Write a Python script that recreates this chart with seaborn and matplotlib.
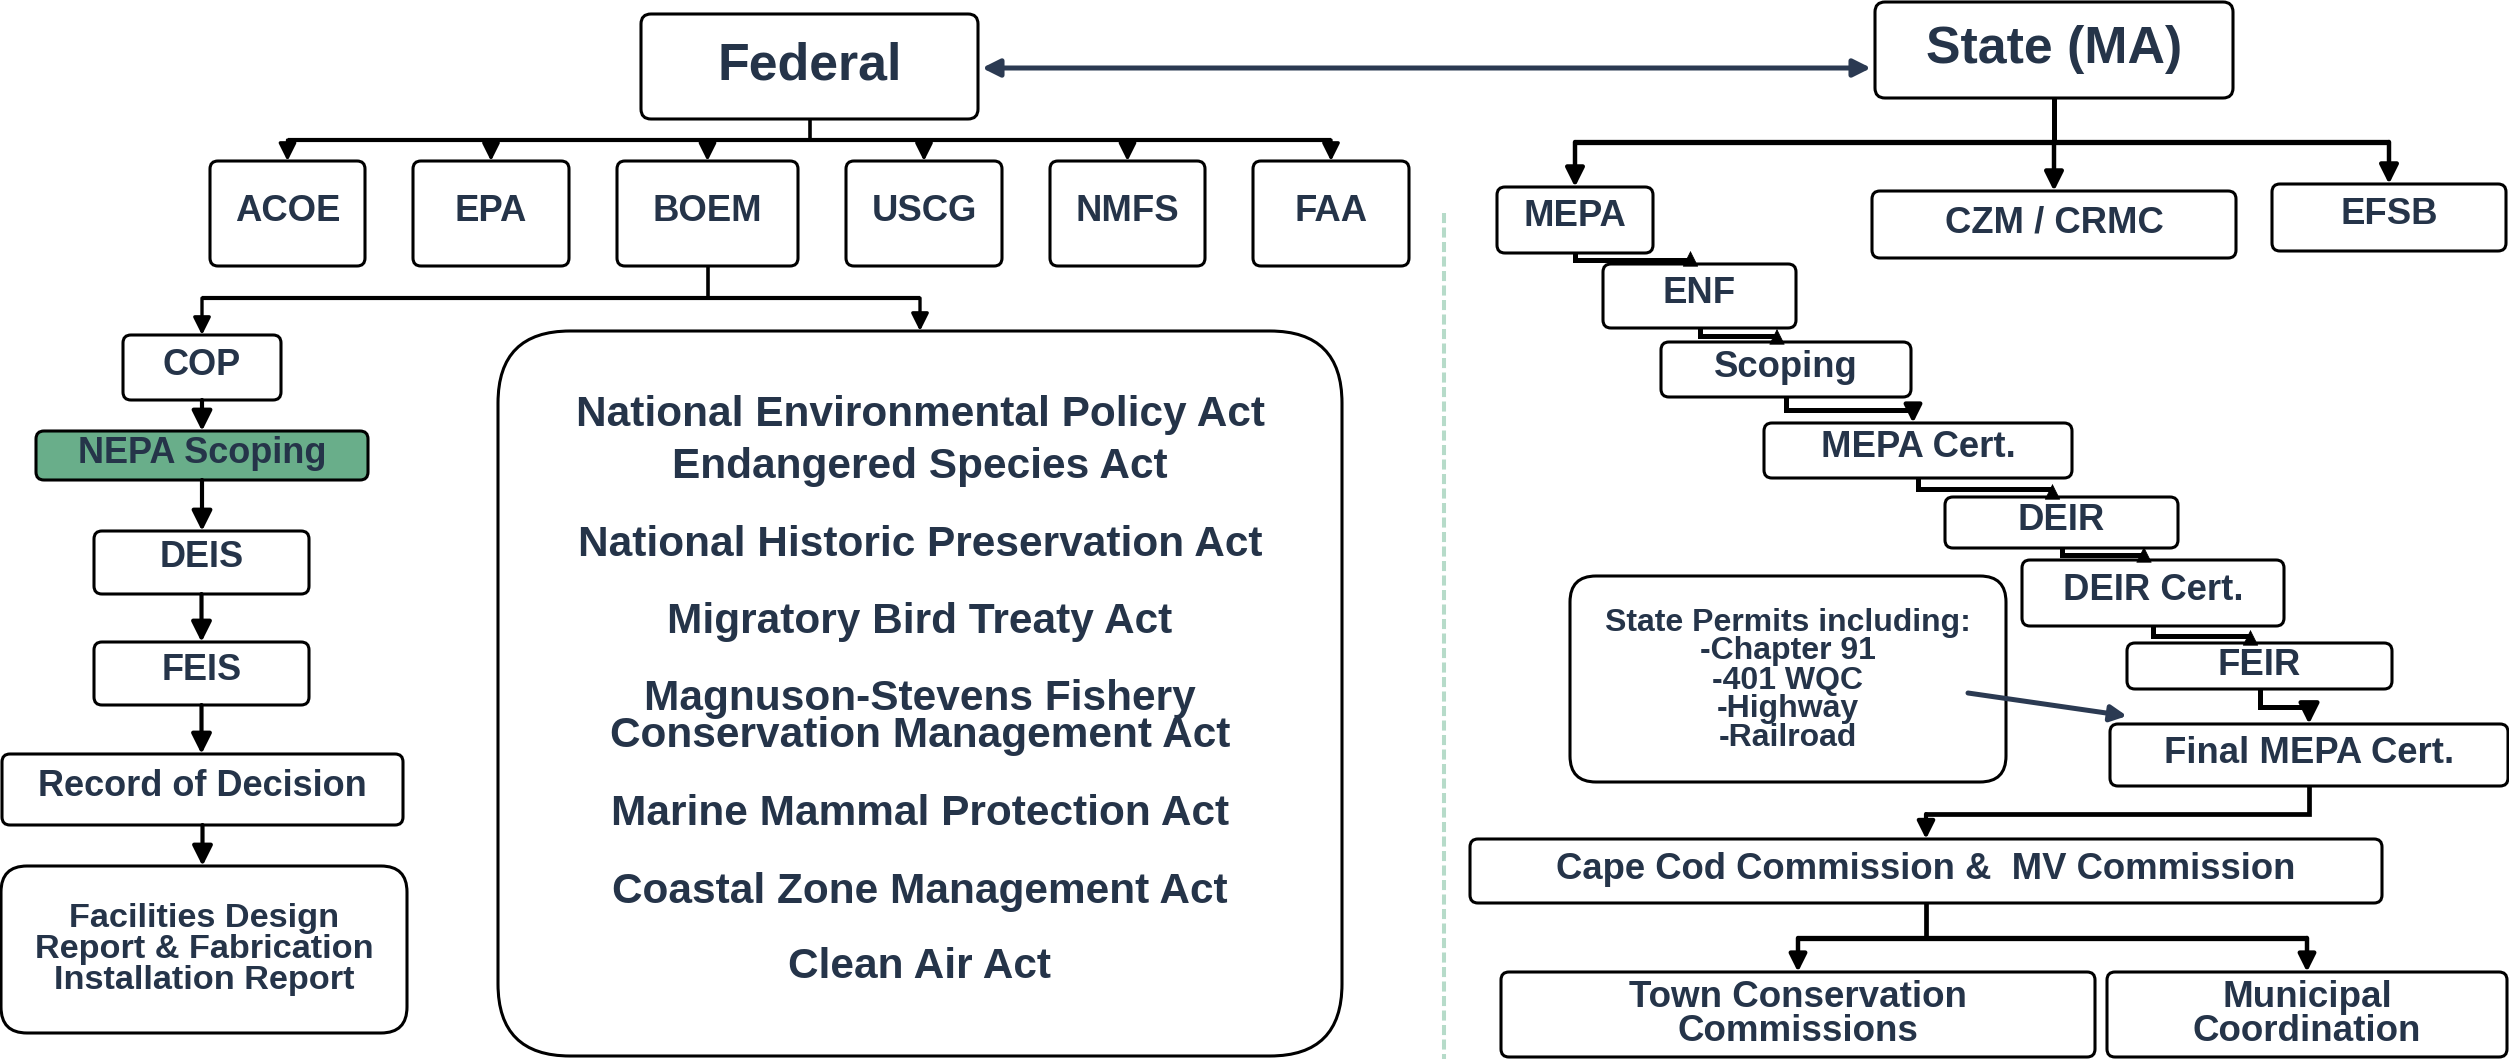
import matplotlib
matplotlib.use("Agg")
import matplotlib.pyplot as plt
from matplotlib.patches import FancyBboxPatch
import seaborn as sns

# ---- chart content -------------------------------------------------------
top_labels = ["Federal", "State (MA)"]
agency_labels = ["ACOE", "EPA", "BOEM", "USCG", "NMFS", "FAA"]
boem_chain = ["COP", "NEPA Scoping", "DEIS", "FEIS", "Record of Decision",
              "Facilities Design\nReport & Fabrication\nInstallation Report"]
highlighted = "NEPA Scoping"
acts_labels = ["National Environmental Policy Act", "Endangered Species Act",
               "National Historic Preservation Act", "Migratory Bird Treaty Act",
               "Magnuson-Stevens Fishery", "Conservation Management Act",
               "Marine Mammal Protection Act", "Coastal Zone Management Act",
               "Clean Air Act"]
state_branches = ["MEPA", "CZM / CRMC", "EFSB"]
mepa_chain = ["ENF", "Scoping", "MEPA Cert.", "DEIR", "DEIR Cert.", "FEIR",
              "Final MEPA Cert."]
permit_lines = ["State Permits including:", "-Chapter 91", "-401 WQC",
                "-Highway", "-Railroad"]
commission_label = "Cape Cod Commission &  MV Commission"
local_labels = ["Town Conservation\nCommissions", "Municipal\nCoordination"]

# ---- layout (pixel boxes: x0, y0, x1, y1) --------------------------------
top_boxes = [(641, 14, 978, 119), (1875, 2, 2233, 98)]
agency_boxes = [(210, 161, 365, 266), (413, 161, 569, 266), (617, 161, 798, 266),
                (846, 161, 1002, 266), (1050, 161, 1205, 266), (1253, 161, 1409, 266)]
boem_boxes = [(123, 335, 281, 400), (36, 431, 368, 480), (94, 531, 309, 594),
              (94, 642, 309, 705), (2, 754, 403, 825), (1, 866, 407, 1033)]
boem_text_y = [362, 450, 554, 667, 783, 915]
acts_box = (498, 331, 1342, 1056)
acts_y = [411, 463, 541, 618, 695, 732, 810, 888, 963]
state_boxes = [(1497, 187, 1653, 253), (1872, 191, 2236, 258), (2272, 184, 2506, 251)]
state_text_y = [213, 219, 211]
mepa_boxes = [(1603, 264, 1796, 328), (1661, 342, 1911, 397), (1764, 423, 2072, 478),
              (1945, 497, 2178, 548), (2022, 560, 2284, 626), (2127, 643, 2392, 689),
              (2110, 724, 2508, 786)]
mepa_text_y = [290, 364, 444, 517, 587, 662, 750]
permit_box = (1570, 576, 2006, 782)
permit_y = [619, 648, 677, 706, 734]
commission_box = (1470, 839, 2382, 903)
local_boxes = [(1501, 972, 2095, 1057), (2107, 972, 2507, 1057)]
local_y = [994, 1028]

TXT = "#253449"
NAVY = "#2b3a52"
GREEN = "#69ae8a"
DASH = "#b6dbc9"

sns.set_theme(style="white")
plt.rcParams["font.family"] = ["Liberation Sans", "DejaVu Sans"]

fig = plt.figure(figsize=(25.09, 10.59), dpi=100)
ax = fig.add_axes([0, 0, 1, 1])
ax.set_xlim(0, 2509)
ax.set_ylim(1059, 0)
ax.axis("off")


def box(b, r=8, fc="white", lw=2.2):
    x0, y0, x1, y1 = b
    ax.add_patch(FancyBboxPatch((x0, y0), x1 - x0, y1 - y0,
                                boxstyle=f"round,pad=0,rounding_size={r}",
                                fc=fc, ec="black", lw=lw, zorder=2))


def put(x, ycap, s, size):
    # ycap = centre of the capital letters, in pixels
    ax.text(x, ycap + 0.36 * size * 100 / 72, s, fontsize=size, ha="center",
            va="baseline", color=TXT, fontweight="bold", zorder=3)


def cx(b):
    return (b[0] + b[2]) / 2


def arrow(p0, p1, lw=2.6, ms=28, color="black", style="-|>", z=4):
    ax.annotate("", xy=p1, xytext=p0,
                arrowprops=dict(arrowstyle=style, color=color, lw=lw,
                                mutation_scale=ms, shrinkA=0, shrinkB=0),
                zorder=z)


def line(xs, ys, lw=2.6):
    ax.plot(xs, ys, color="black", lw=lw, solid_capstyle="butt",
            solid_joinstyle="miter", zorder=1)


# divider
ax.plot([1444, 1444], [213, 1059], color=DASH, lw=2.9, dashes=(2.5, 1.1), zorder=0)

# federal <-> state
arrow((982, 68), (1871, 68), lw=3.6, ms=26, color=NAVY, style="<|-|>")

# top boxes
for b in top_boxes:
    box(b, r=10)
put(cx(top_boxes[0]), 61, top_labels[0], 37.4)
put(cx(top_boxes[1]), 44, top_labels[1], 37.4)

# federal agencies
fx = cx(top_boxes[0])
line([fx, fx], [119, 140])
line([cx(agency_boxes[0]), cx(agency_boxes[-1])], [140, 140], lw=3)
for b, s in zip(agency_boxes, agency_labels):
    arrow((cx(b), 140), (cx(b), b[1]), lw=2.4, ms=26)
    box(b)
    put(cx(b), 208, s, 26.3)

# BOEM branch
bx = cx(agency_boxes[2])
line([bx, bx], [266, 298])
line([cx(boem_boxes[0]), cx(acts_box)], [298, 298], lw=3)
arrow((cx(boem_boxes[0]), 298), (cx(boem_boxes[0]), boem_boxes[0][1]), lw=2.4, ms=26)
arrow((cx(acts_box), 298), (cx(acts_box), acts_box[1]), lw=2.4, ms=26)

for i, (b, s, y) in enumerate(zip(boem_boxes, boem_chain, boem_text_y)):
    if i > 0:
        prev = boem_boxes[i - 1]
        arrow((cx(prev), prev[3]), (cx(prev), b[1]), lw=3, ms=30)
    last = i == len(boem_chain) - 1
    box(b, r=26 if last else 8, fc=GREEN if s == highlighted else "white")
    if last:
        for k, part in enumerate(s.split("\n")):
            put(cx(b), y + 31 * k, part, 24.7)
    else:
        put(cx(b), y, s, 26)

# acts
box(acts_box, r=72)
for s, y in zip(acts_labels, acts_y):
    put(cx(acts_box), y, s, 30.5)

# state branches
sx = cx(top_boxes[1])
line([sx, sx], [98, 142], lw=3.6)
line([cx(state_boxes[0]), cx(state_boxes[-1])], [142, 142], lw=3.8)
for b, s, y in zip(state_boxes, state_branches, state_text_y):
    arrow((cx(b), 142), (cx(b), b[1]), lw=3.2, ms=28)
    box(b)
    put(cx(b), y, s, 26.3)

# MEPA staircase: short elbow connectors, heads sit on the next box's top edge
chain = [state_boxes[0]] + mepa_boxes
for up, lo in zip(chain[:-1], chain[1:]):
    ux = cx(up)
    gap = lo[1] - up[3]
    if gap <= 20:
        tx = cx(lo) - 9
        yh = (up[3] + lo[1]) / 2 + 1
        line([ux, ux, tx], [up[3], yh, yh], lw=3.6)
        arrow((tx, lo[1]), (tx, lo[1] - 13), lw=0.5, ms=26, z=5)
    else:
        tx = cx(lo) - (0 if gap > 30 else 5)
        yh = up[3] + gap * 0.5
        line([ux, ux, tx], [up[3], yh, yh], lw=3.6)
        arrow((tx, yh - 1), (tx, lo[1]), lw=3.2, ms=30 if gap > 30 else 26)
for b, s, y in zip(mepa_boxes, mepa_chain, mepa_text_y):
    box(b)
    put(cx(b), y, s, 26.3)

# permits note
box(permit_box, r=26)
for s, y in zip(permit_lines, permit_y):
    put(cx(permit_box), y, s, 23)
arrow((1968, 693), (2127, 716), lw=3.6, ms=24, color=NAVY)

# commissions
fin = mepa_boxes[-1]
line([cx(fin), cx(fin), cx(commission_box)], [fin[3], 814, 814], lw=3.4)
arrow((cx(commission_box), 814), (cx(commission_box), commission_box[1]), lw=3, ms=26)
box(commission_box)
put(cx(commission_box), 866, commission_label, 26.3)

cc = cx(commission_box)
line([cc, cc], [903, 938], lw=3.4)
line([cx(local_boxes[0]), cx(local_boxes[1])], [938, 938], lw=3.8)
for b, s in zip(local_boxes, local_labels):
    arrow((cx(b), 938), (cx(b), b[1]), lw=3.2, ms=26)
    box(b)
    for k, part in enumerate(s.split("\n")):
        put(cx(b), local_y[k], part, 26.5)

fig.savefig("out.png", dpi=100)
